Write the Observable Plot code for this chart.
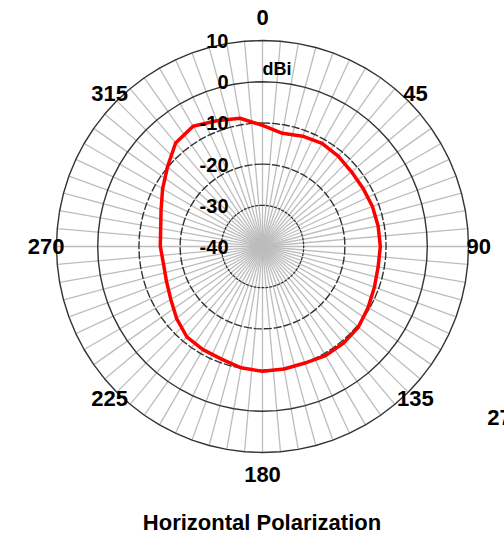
<!DOCTYPE html>
<html>
<head>
<meta charset="utf-8">
<script src="https://cdn.jsdelivr.net/npm/d3@7"></script>
<script src="https://cdn.jsdelivr.net/npm/@observablehq/plot@0.6"></script>
<style>
  html, body { margin: 0; padding: 0; background: #ffffff; }
  body { width: 504px; height: 545px; overflow: hidden; font-family: "Liberation Sans", Arial, sans-serif; }
  #title { width: 504px; box-sizing: border-box; padding-left: 20px; height: 45px; line-height: 46px;
           text-align: center; font-weight: bold; font-size: 22px; color: #000; }
</style>
</head>
<body>
<div id="chart"></div>
<div id="title">Horizontal Polarization</div>
<script>
// ---- data ----
const patternAngles = [0,10,20,30,40,50,60,70,80,90,100,110,120,130,140,150,160,170,
                       180,190,200,210,220,230,240,250,260,270,280,290,300,310,320,330,340,350];
const patternGain = [-10.6,-12.1,-11.5,-11.1,-11.4,-11.8,-11.8,-11.6,-11.5,-11.4,-11.5,-11.1,
                     -10.4,-9.6,-9.4,-9.4,-9.9,-9.8,-9.7,-10.1,-10.9,-11.1,-11.4,-12.8,
                     -14.3,-15.2,-15.6,-15.2,-14.9,-13.8,-12.0,-9.9,-7.2,-6.3,-7.5,-8.4];
const ringLevels = [10, 0, -10, -20, -30];
const ringStyles = ["solid", "solid", "dashed", "dashed", "dotted"];
const ringLabels = ["10", "0", "-10", "-20", "-30", "-40"];
const ringLabelLevels = [10, 0, -10, -20, -30, -40];
const angleTicks = [0, 45, 90, 135, 180, 225, 270, 315];
const angleTickLabels = ["0", "45", "90", "135", "180", "225", "270", "315"];
const unitLabel = "dBi";
const strayLabel = {text: "270", angle: 127.4, radius: 68.7};
const spokeStep = 5;
const minDb = -40, maxDb = 10;

// ---- helpers ----
const rad = a => a * Math.PI / 180;
const R = db => db - minDb;            // radial units
const outerR = R(maxDb);
const px = (a, r) => r * Math.sin(rad(a));
const py = (a, r) => r * Math.cos(rad(a));

const spokeAngles = d3.range(0, 360, spokeStep);
const spokes = spokeAngles.map(a => ({a}));
const ringPts = [];
ringLevels.forEach((L, i) => spokeAngles.forEach(a => ringPts.push({a, L, style: ringStyles[i]})));
const pattern = patternAngles.map((a, i) => ({a, db: patternGain[i]}));
const ringLab = ringLabelLevels.map((L, i) => ({L, t: ringLabels[i]}));
const angLab = angleTicks.map((a, i) => ({a, t: angleTickLabels[i]}));
const sideLab = angLab.filter(d => Math.abs(Math.sin(rad(d.a))) > 0.1);
const poleLab = angLab.filter(d => Math.abs(Math.sin(rad(d.a))) <= 0.1);

const ringMark = (style, opts) => Plot.line(ringPts.filter(d => d.style === style), {
  x: d => px(d.a, R(d.L)), y: d => py(d.a, R(d.L)), z: "L",
  curve: "linear-closed", stroke: "#333333", strokeWidth: 1.4, ...opts
});

const chart = Plot.plot({
  width: 504, height: 500,
  marginLeft: 56, marginRight: 36, marginTop: 40, marginBottom: 48,
  x: {domain: [-outerR, outerR], axis: null},
  y: {domain: [-outerR, outerR], axis: null},
  style: {fontFamily: "'Liberation Sans', Arial, sans-serif", background: "#ffffff", overflow: "visible"},
  marks: [
    Plot.link(spokes, {x1: 0, y1: 0, x2: d => px(d.a, outerR), y2: d => py(d.a, outerR),
                       stroke: "#bdbdbd", strokeWidth: 1.3}),
    ringMark("solid", {}),
    ringMark("dashed", {strokeDasharray: "7,3"}),
    ringMark("dotted", {strokeDasharray: "2,2", strokeWidth: 1.3}),
    Plot.line(pattern, {x: d => px(d.a, R(d.db)), y: d => py(d.a, R(d.db)),
                        curve: "linear-closed", stroke: "#ff0000", strokeWidth: 3.5, strokeLinejoin: "round"}),
    Plot.text(ringLab, {x: 0, y: d => R(d.L), text: "t", textAnchor: "end", dx: -34, dy: 1,
                        fontSize: 20, fontWeight: "bold", fill: "#000"}),
    Plot.text([unitLabel], {x: 0, y: R(0), text: d => d, textAnchor: "start", dy: -12,
                            fontSize: 18, fontWeight: "bold", fill: "#000"}),
    Plot.text(sideLab, {x: d => px(d.a, outerR + 2.5), y: d => py(d.a, outerR + 2.5), text: "t",
                        textAnchor: d => Math.sin(rad(d.a)) > 0 ? "start" : "end",
                        fontSize: 22, fontWeight: "bold", fill: "#000"}),
    Plot.text(poleLab, {x: d => px(d.a, outerR + 5.4), y: d => py(d.a, outerR + 5.4), text: "t",
                        textAnchor: "middle", fontSize: 22, fontWeight: "bold", fill: "#000"}),
    Plot.text([strayLabel], {x: d => px(d.angle, d.radius), y: d => py(d.angle, d.radius), text: "text",
                             textAnchor: "start", fontSize: 22, fontWeight: "bold", fill: "#000"})
  ]
});
document.getElementById("chart").appendChild(chart);
</script>
</body>
</html>
